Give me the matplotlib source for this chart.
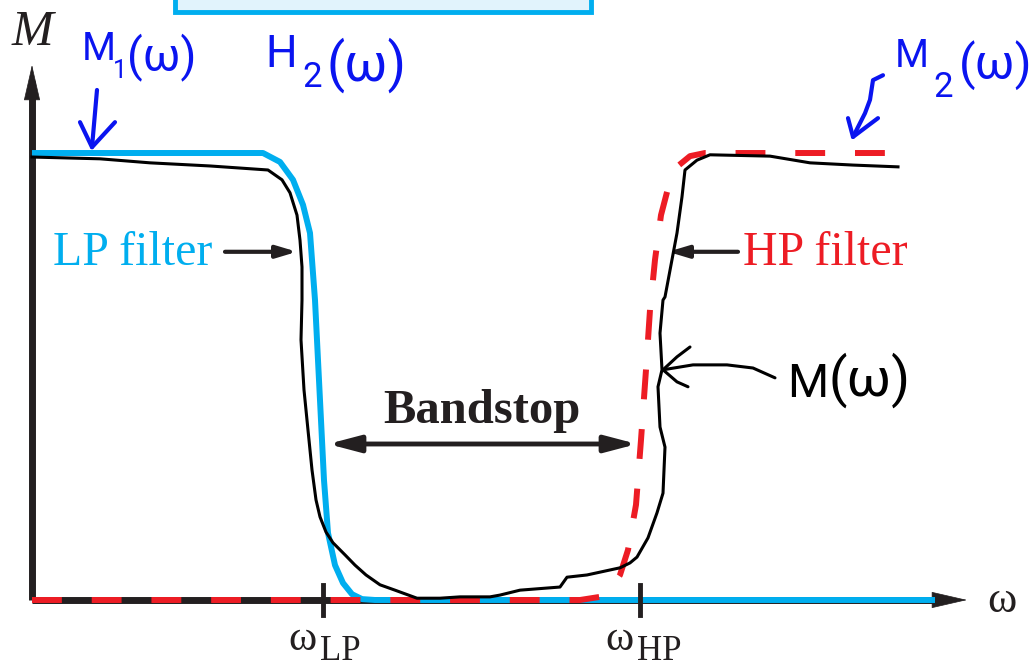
import matplotlib.pyplot as plt

# frequency axis (arbitrary units) and magnitude M
w_lp = [0.00, 2.31, 2.48, 2.61, 2.71, 2.78, 2.83, 2.88, 2.92, 2.96, 3.03, 3.11, 3.20, 3.30, 3.43, 9.03]
m_lp = [1.00, 1.00, 0.980, 0.940, 0.884, 0.821, 0.671, 0.447, 0.268, 0.150, 0.078, 0.038, 0.013, 0.002, 0.0, 0.0]

w_hp = [0.00, 5.48, 5.68, 5.78, 5.88, 5.96, 6.04, 6.09, 6.14, 6.18, 6.23, 6.29, 6.36, 6.46, 6.58, 6.73, 8.61]
m_hp = [0.0, 0.0, 0.007, 0.022, 0.056, 0.112, 0.213, 0.358, 0.515, 0.649, 0.761, 0.861, 0.921, 0.971, 0.993, 1.0, 1.0]

# hand-drawn total response M(w) = M1 + M2
w_m = [0.00, 0.68, 1.18, 1.78, 2.36, 2.50, 2.58, 2.65, 2.68, 2.70, 2.70, 2.69, 2.72, 2.76, 2.80, 2.84,
       2.88, 2.94, 3.01, 3.13, 3.23, 3.34, 3.48, 3.63, 3.85, 4.08, 4.28, 4.58, 4.68, 4.88, 5.28,
       5.35, 5.55, 5.88, 5.98, 6.05, 6.16, 6.25, 6.31, 6.33, 6.28, 6.26, 6.30, 6.28, 6.31, 6.33,
       6.45, 6.50, 6.53, 6.65, 6.78, 7.38, 7.78, 8.21, 8.66]
m_m = [0.991, 0.987, 0.978, 0.971, 0.962, 0.940, 0.911, 0.861, 0.805, 0.745, 0.671, 0.582, 0.470, 0.380, 0.291, 0.224,
       0.186, 0.152, 0.128, 0.101, 0.078, 0.056, 0.034, 0.022, 0.004, 0.004, 0.007, 0.007, 0.011, 0.022, 0.029,
       0.051, 0.056, 0.072, 0.083, 0.096, 0.139, 0.195, 0.239, 0.342, 0.387, 0.477, 0.515, 0.597, 0.671, 0.678,
       0.821, 0.902, 0.962, 0.984, 0.996, 0.993, 0.978, 0.973, 0.969]

tick_w = [2.91, 6.08]
tick_names = ['LP', 'HP']
band = [2.96, 6.05]

# pen arrows
m1_arrow = ([0.65, 0.60], [1.141, 1.013])
m1_head = ([0.48, 0.60, 0.83], [1.069, 1.013, 1.069])
m2_arrow = ([8.51, 8.41, 8.38, 8.33, 8.21], [1.174, 1.163, 1.119, 1.089, 1.036])
m2_head = ([8.16, 8.21, 8.46], [1.078, 1.036, 1.078])
m_arrow = ([7.43, 7.21, 6.95, 6.61, 6.31], [0.497, 0.519, 0.526, 0.526, 0.515])
m_head = ([6.58, 6.45, 6.31, 6.45, 6.56], [0.566, 0.544, 0.515, 0.488, 0.477])

black = '#231f20'
cyan = '#00aeef'
red = '#ed1c24'
pen_blue = '#0a14f0'
serif = 'Liberation Serif'
hand = ['Roboto', 'DejaVu Sans']

fig = plt.figure(figsize=(10.36, 6.67), dpi=100)
ax = fig.add_axes([0, 0, 1, 1])
ax.set_xlim(-0.32, 10.04)
ax.set_ylim(-0.1499, 1.3423)
ax.axis('off')

# boxed title cut off at the top
ax.add_patch(plt.Rectangle((1.43, 1.316), 4.16, 0.2, facecolor='#e1f3fc', edgecolor=cyan, lw=3.5))

# axes with arrow heads
ax.plot([0, 0], [0, 1.16], color=black, lw=5, solid_capstyle='butt')
ax.plot([0, 9.05], [0, 0], color=black, lw=5, solid_capstyle='butt')
ax.annotate('', xy=(0, 1.197), xytext=(0, 1.12),
            arrowprops=dict(arrowstyle='-|>,head_length=2.4,head_width=0.55', lw=0.5, color=black,
                            mutation_scale=10, shrinkA=0, shrinkB=0))
ax.annotate('', xy=(9.35, 0), xytext=(9.0, 0),
            arrowprops=dict(arrowstyle='-|>,head_length=2.4,head_width=0.55', lw=0.5, color=black,
                            mutation_scale=10, shrinkA=0, shrinkB=0))

for w, name in zip(tick_w, tick_names):
    ax.plot([w, w], [-0.034, 0.034], color=black, lw=3.5, zorder=5)
    ax.text(w - 0.06, -0.112, 'ω', family=serif, fontsize=31, ha='right', va='baseline', color=black)
    ax.text(w - 0.03, -0.134, name, family=serif, fontsize=25, ha='left', va='baseline', color=black)

ax.text(0.0, 1.2416, 'M', family=serif, style='italic', fontsize=36, ha='center', va='baseline', color=black)
ax.text(9.55, -0.027, 'ω', family=serif, fontsize=32, ha='left', va='baseline', color=black)

# low-pass and high-pass responses
ax.plot(w_lp, m_lp, color=cyan, lw=4.3, solid_capstyle='butt', zorder=3)
ax.plot(w_hp, m_hp, color=red, lw=4.3, linestyle=(0, (5, 5)), dash_capstyle='butt', zorder=4)
ax.plot(w_m, m_m, color='black', lw=2.2, solid_joinstyle='round', zorder=6)

ax.text(0.21, 0.749, 'LP filter', family=serif, fontsize=34.5, color=cyan, ha='left', va='baseline')
ax.text(7.11, 0.749, 'HP filter', family=serif, fontsize=34.5, color=red, ha='left', va='baseline')
ax.annotate('', xy=(2.65, 0.779), xytext=(1.93, 0.779),
            arrowprops=dict(arrowstyle='-|>,head_length=1.2,head_width=0.36', lw=3, color=black,
                            mutation_scale=10, shrinkA=0, shrinkB=0))
ax.annotate('', xy=(6.36, 0.779), xytext=(7.06, 0.779),
            arrowprops=dict(arrowstyle='-|>,head_length=1.2,head_width=0.36', lw=3, color=black,
                            mutation_scale=10, shrinkA=0, shrinkB=0))

ax.text(4.50, 0.396, 'Bandstop', family=serif, fontweight='bold', fontsize=35, color=black,
        ha='center', va='baseline')
ax.annotate('', xy=(band[1], 0.349), xytext=(band[0], 0.349),
            arrowprops=dict(arrowstyle='<|-|>,head_length=1.9,head_width=0.5', lw=3.5, color=black,
                            mutation_scale=10, shrinkA=0, shrinkB=0))

# handwritten notes
ax.text(0.50, 1.208, 'M', family=hand, fontsize=28, color=pen_blue, va='baseline')
ax.text(0.81, 1.168, '1', family=hand, fontsize=18, color=pen_blue, va='baseline')
ax.text(0.95, 1.185, '(ω)', family=hand, fontsize=33, color=pen_blue, va='baseline')
ax.plot(*m1_arrow, color=pen_blue, lw=3, solid_capstyle='round')
ax.plot(*m1_head, color=pen_blue, lw=3, solid_capstyle='round', solid_joinstyle='round')

ax.text(2.33, 1.192, 'H', family=hand, fontsize=32, color=pen_blue, va='baseline')
ax.text(2.70, 1.148, '2', family=hand, fontsize=25, color=pen_blue, va='baseline')
ax.text(2.95, 1.162, '(ω)', family=hand, fontsize=38, color=pen_blue, va='baseline')

ax.text(8.63, 1.192, 'M', family=hand, fontsize=28, color=pen_blue, va='baseline')
ax.text(9.01, 1.125, '2', family=hand, fontsize=25, color=pen_blue, va='baseline')
ax.text(9.27, 1.165, '(ω)', family=hand, fontsize=35, color=pen_blue, va='baseline')
ax.plot(*m2_arrow, color=pen_blue, lw=3, solid_capstyle='round', solid_joinstyle='round')
ax.plot(*m2_head, color=pen_blue, lw=3, solid_capstyle='round', solid_joinstyle='round')

ax.text(7.55, 0.454, 'M', family=hand, fontsize=34, color='black', va='baseline')
ax.text(7.96, 0.458, '(ω)', family=hand, fontsize=39, color='black', va='baseline')
ax.plot(*m_arrow, color='black', lw=2.2, solid_capstyle='round', solid_joinstyle='round')
ax.plot(*m_head, color='black', lw=2.2, solid_capstyle='round', solid_joinstyle='round')

plt.savefig('out.png', dpi=100)
